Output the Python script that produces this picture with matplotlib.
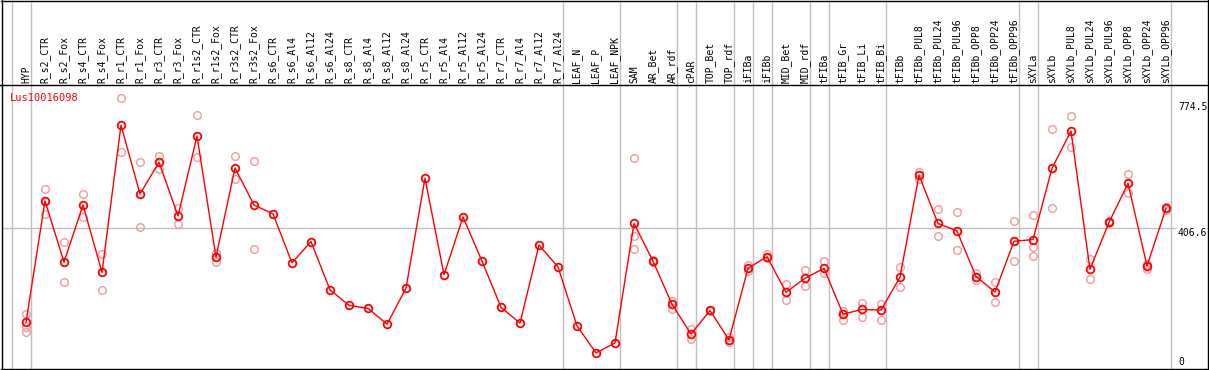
import numpy as np
import matplotlib.pyplot as plt
from matplotlib.lines import Line2D

# categories (column headers)
samples = ['HYP', 'R_s2_CTR', 'R_s2_Fox', 'R_s4_CTR', 'R_s4_Fox', 'R_r1_CTR', 'R_r1_Fox',
           'R_r3_CTR', 'R_r3_Fox', 'R_r1s2_CTR', 'R_r1s2_Fox', 'R_r3s2_CTR', 'R_r3s2_Fox',
           'R_s6_CTR', 'R_s6_Al4', 'R_s6_Al12', 'R_s6_Al24', 'R_s8_CTR', 'R_s8_Al4',
           'R_s8_Al12', 'R_s8_Al24', 'R_r5_CTR', 'R_r5_Al4', 'R_r5_Al12', 'R_r5_Al24',
           'R_r7_CTR', 'R_r7_Al4', 'R_r7_Al12', 'R_r7_Al24', 'LEAF_N', 'LEAF_P', 'LEAF_NPK',
           'SAM', 'AR_Bet', 'AR_rdf', 'cPAR', 'TOP_Bet', 'TOP_rdf', 'iFIBa', 'iFIBb',
           'MID_Bet', 'MID_rdf', 'tFIBa', 'tFIB_Gr', 'tFIB_Li', 'tFIB_Bi', 'tFIBb',
           'tFIBb_PUL8', 'tFIBb_PUL24', 'tFIBb_PUL96', 'tFIBb_OPP8', 'tFIBb_OPP24',
           'tFIBb_OPP96', 'sXYLa', 'sXYLb', 'sXYLb_PUL8', 'sXYLb_PUL24', 'sXYLb_PUL96',
           'sXYLb_OPP8', 'sXYLb_OPP24', 'sXYLb_OPP96']

# size of each sample group (separated by grey lines)
group_sizes = [1, 28, 3, 3, 1, 2, 1, 1, 2, 1, 3, 7, 1, 7]

# mean expression
means = [131, 486, 307, 474, 277, 707, 506, 599, 442, 675, 322, 582, 474,
         448, 305, 367, 226, 181, 172, 126, 231, 552, 270, 439, 310,
         175, 129, 357, 293, 121, 42, 71,
         420, 310, 184, 97, 166, 80, 289, 323,
         219, 260, 289, 155, 169, 167, 263,
         561, 420, 398, 265, 220, 368, 373, 581, 690, 286, 423, 537, 296, 464]

# replicate values
reps = [[155, 117, 102], [521, 447, 486], [365, 249], [505, 440], [331, 226],
        [785, 628], [599, 409], [617, 578], [465, 418], [737, 613], [335, 308],
        [617, 551], [602, 345],
        [], [], [], [], [], [], [], [], [], [], [], [], [], [], [], [], [], [], [],
        [610, 384, 345], [312, 307], [195, 169], [111, 84], [168, 164], [89, 73],
        [299, 281], [331, 320], [242, 196], [283, 237], [310, 276], [164, 138],
        [188, 146], [184, 138], [293, 234],
        [571, 549], [461, 383], [453, 342], [276, 255], [249, 190], [426, 311],
        [445, 350, 326], [695, 464], [734, 642], [316, 257], [428, 420], [564, 509],
        [301, 286], [468, 458]]

gene = 'Lus10016098'
tick_vals = [774.5, 406.6, 0]

W, H = 1209, 370
fig = plt.figure(figsize=(W / 100, H / 100), dpi=100)

# plot region in pixels
left, right, top, bottom = 1.5, 1208, 85, 368.5
ax = fig.add_axes([left / W, (H - bottom) / H, (right - left) / W, (bottom - top) / H])
step = 19.0
xmin = -(26 - left) / step
ax.set_xlim(xmin, xmin + (right - left) / step)
ppu = 0.3425
ymin = -(bottom - 367.3) / ppu
ax.set_ylim(ymin, ymin + (bottom - top) / ppu)
ax.axis('off')

x = np.arange(len(samples))
mono = 'DejaVu Sans Mono'

# separators between groups
ends = np.cumsum([0] + group_sizes) - 1
htop = 1 + top / (bottom - top)
ax.vlines(ends + 0.25, 0, htop, color='#c0c0c0', lw=1,
          transform=ax.get_xaxis_transform(), clip_on=False, zorder=1)

# reference line
ax.hlines(tick_vals[1], xmin, 60.5, color='#c0c0c0', lw=1, zorder=1)

# replicates
for i, r in enumerate(reps):
    ax.plot([i] * len(r), r, 'o', ms=5.5, mfc='none', mec='#f09a9a', mew=1, zorder=2)

# mean line
ax.plot(x, means, '-', color='red', lw=1, zorder=3)
ax.plot(x, means, 'o', ms=5.5, mfc='none', mec='red', mew=1.3, zorder=4)

# column headers
for i, s in enumerate(samples):
    ax.text(i, 1 + 2 / (bottom - top), s, rotation=90, ha='center', va='bottom',
            fontsize=7, family=mono, transform=ax.get_xaxis_transform(), clip_on=False)

ax.text((10 - left) / (right - left), 1 - (93 - top) / (bottom - top), gene, color='red',
        fontsize=7.5, family=mono, ha='left', va='top', transform=ax.transAxes)

# value labels on the right
xl = (1178 - 26) / step
ax.text(xl, tick_vals[0], '774.5', fontsize=7, family=mono, va='top', ha='left')
ax.text(xl, tick_vals[1], '406.6', fontsize=7, family=mono, va='top', ha='left')
ax.text(xl, tick_vals[2], '0', fontsize=7, family=mono, va='bottom', ha='left')

# borders
for xs, ys in [([0.5, W - 0.5], [0.5, 0.5]), ([0.5, W - 0.5], [H - 1, H - 1]),
               ([1.5, 1.5], [0, H]), ([W - 1, W - 1], [0, H]), ([0, W], [top, top])]:
    fig.add_artist(Line2D([v / W for v in xs], [1 - v / H for v in ys], color='black', lw=1))

plt.savefig('out.png', dpi=100)
